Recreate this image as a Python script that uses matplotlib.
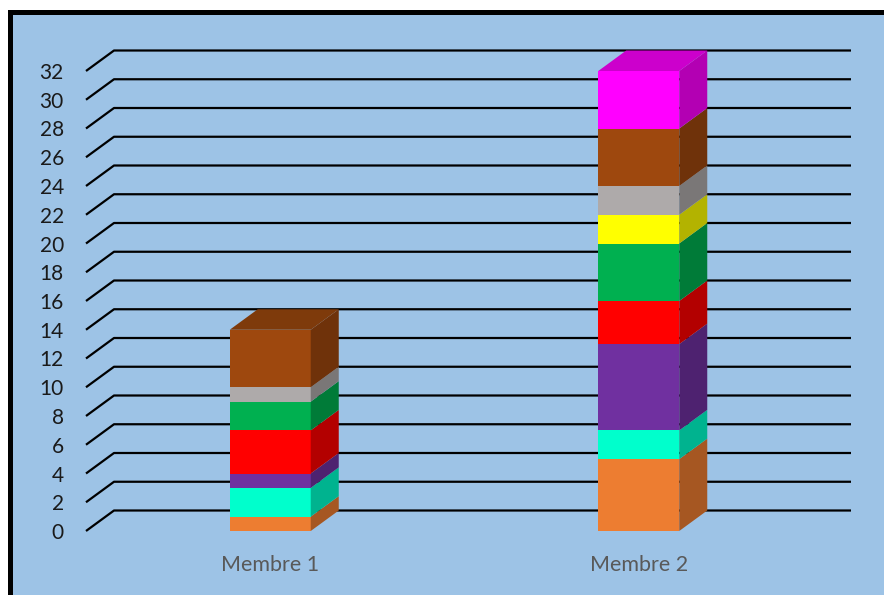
import matplotlib
matplotlib.use("Agg")
import matplotlib.pyplot as plt
from matplotlib.patches import Polygon, Rectangle
from matplotlib.colors import to_rgb
import numpy as np

categories = ["Membre 1", "Membre 2"]
series_colors = ["#ED7D31", "#00FFCC", "#7030A0", "#FF0000", "#00B050",
                 "#FFFF00", "#AEAAAA", "#9E480E", "#FF00FF"]
membre1 = [1, 2, 1, 3, 2, 0, 1, 4, 0]
membre2 = [5, 2, 6, 3, 4, 2, 2, 4, 4]
yticks = list(range(0, 33, 2))

W, H = 884, 595
fig = plt.figure(figsize=(W / 100, H / 100), dpi=100)
fig.patch.set_facecolor("white")

# background panel with black top/left border
fig.patches.append(Rectangle((8 / W, 0), 1 - 8 / W, 1 - 10 / H, transform=fig.transFigure,
                             facecolor="black", edgecolor="none", zorder=-3))
fig.patches.append(Rectangle((13 / W, 0), 1 - 13 / W, 1 - 15 / H, transform=fig.transFigure,
                             facecolor="#9DC3E6", edgecolor="none", zorder=-2))

# axes geometry (pixels)
px_unit_x = 368.5
px_unit_y = 14.375
x_left_px = 86
y0_px = 531
xmin, xmax = -0.5, 1.58
ymin, ymax = 0, 34
ax_w = (xmax - xmin) * px_unit_x
ax_h = (ymax - ymin) * px_unit_y
ax = fig.add_axes([x_left_px / W, (H - y0_px) / H, ax_w / W, ax_h / H])
ax.set_xlim(xmin, xmax)
ax.set_ylim(ymin, ymax)
ax.patch.set_alpha(0)
for s in ax.spines.values():
    s.set_visible(False)

dx = 28 / px_unit_x
dy = 20.5 / px_unit_y

# gridlines (3D style)
for v in yticks:
    ax.plot([xmin, xmin + dx, 1.5 + dx], [v, v + dy, v + dy], color="black",
            lw=1.6, solid_capstyle="butt", zorder=1, clip_on=False)

ax.set_yticks(yticks)
ax.set_yticklabels([str(v) for v in yticks], fontsize=15, color="#1a1a1a",
                   fontfamily="Lato")
ax.tick_params(axis="y", length=0, pad=16)
ax.set_xticks(range(len(categories)))
ax.set_xticklabels(categories, fontsize=15.5, color="#595959", fontfamily="Lato")
ax.tick_params(axis="x", length=0, pad=17)

bw = 81 / px_unit_x


def shade(c, f):
    r, g, b = to_rgb(c)
    return (r * f, g * f, b * f)


for i, vals in enumerate([membre1, membre2]):
    bottom = 0
    x0 = i - bw / 2
    x1 = i + bw / 2
    nz = [k for k, v in enumerate(vals) if v > 0]
    last = nz[-1]
    for k, v in enumerate(vals):
        if v <= 0:
            continue
        c = series_colors[k]
        top = bottom + v
        ax.bar(i, v, bw, bottom=bottom, color=c, edgecolor="none", zorder=3)
        side = Polygon([(x1, bottom), (x1 + dx, bottom + dy), (x1 + dx, top + dy), (x1, top)],
                       closed=True, facecolor=shade(c, 0.7), edgecolor="none", zorder=3)
        ax.add_patch(side)
        if k == last:
            tp = Polygon([(x0, top), (x1, top), (x1 + dx, top + dy), (x0 + dx, top + dy)],
                         closed=True, facecolor=shade(c, 0.8), edgecolor="none", zorder=3)
            ax.add_patch(tp)
        bottom = top

fig.savefig("out.png", dpi=100, facecolor=fig.get_facecolor())
